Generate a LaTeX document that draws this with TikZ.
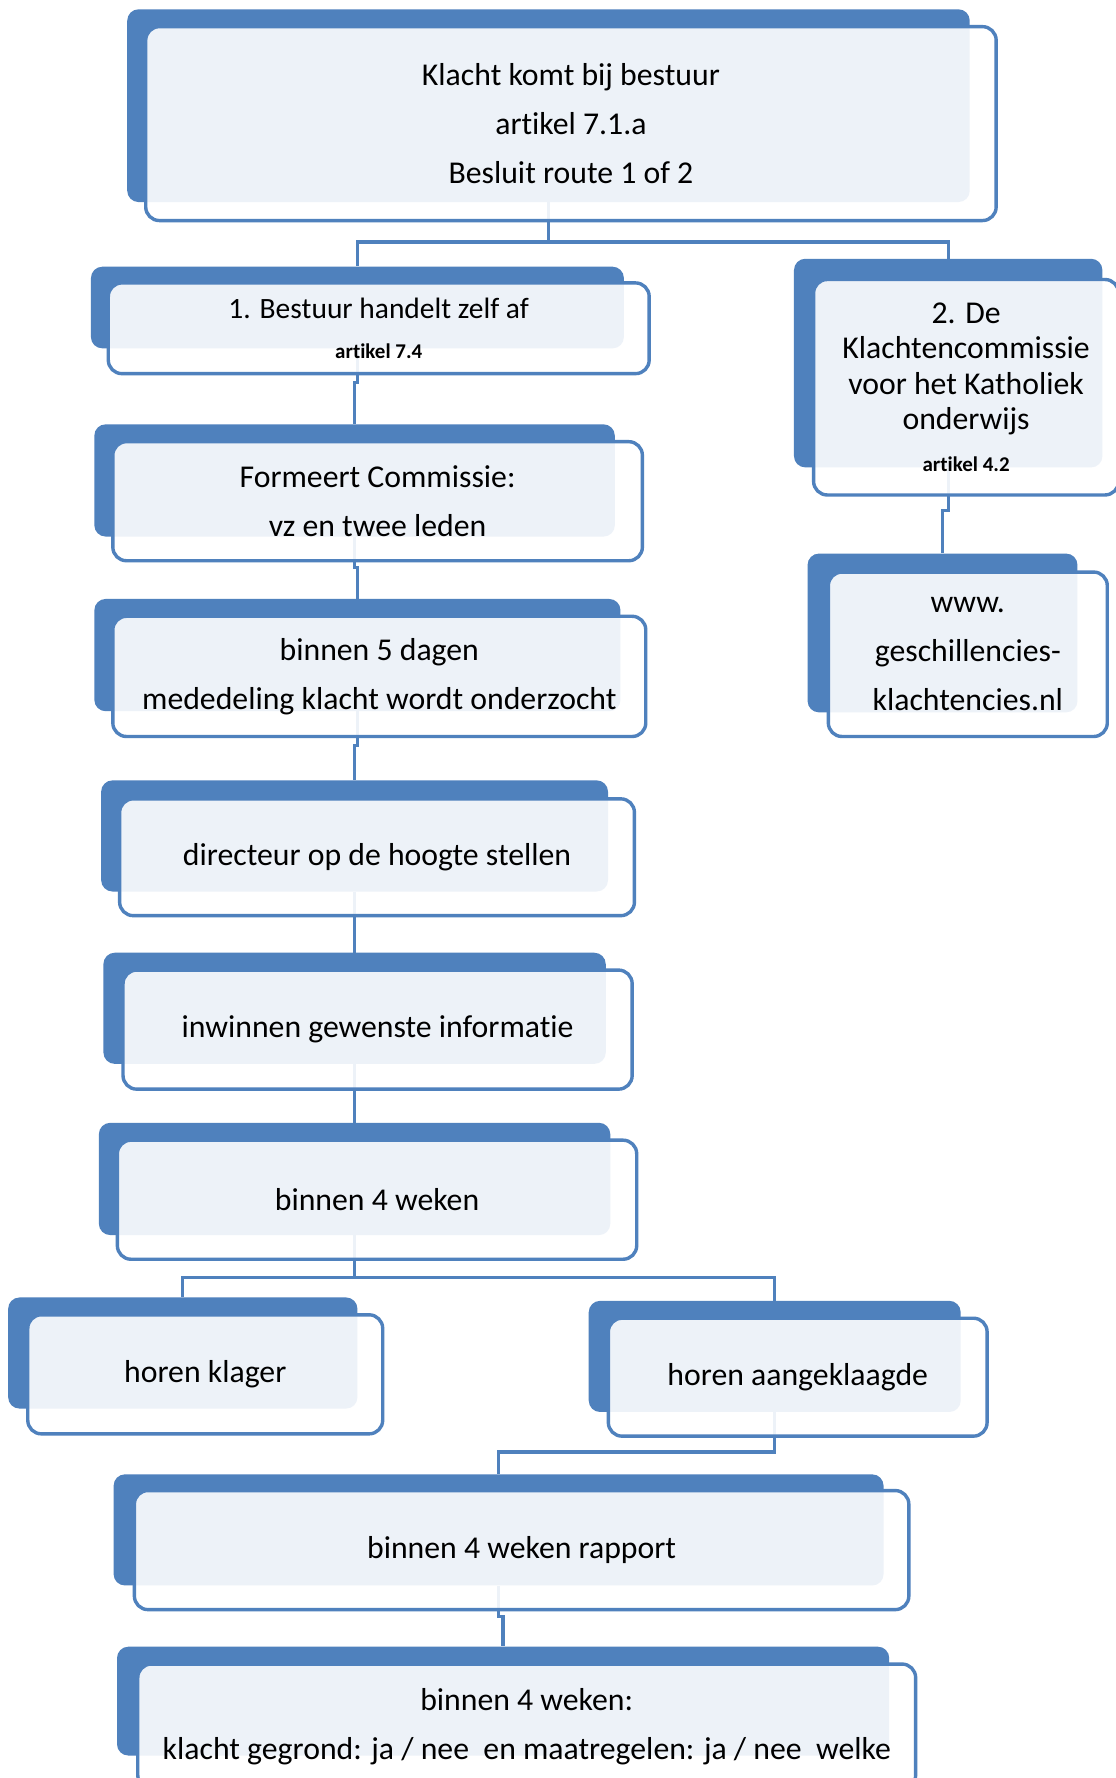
\documentclass[tikz,border=0pt]{standalone}
\usepackage{fontspec}
\setmainfont{Carlito}[Ligatures=NoCommon]
\definecolor{boxblue}{RGB}{79,129,189}
\tikzset{
	back/.style={fill=boxblue,rounded corners=10pt,anchor=north west,inner sep=0pt},
	front/.style={draw=boxblue,line width=3pt,fill=white,fill opacity=0.9,text opacity=1,rounded corners=12pt,anchor=north west,align=center,inner sep=0pt,font=\fontsize{28}{43}\selectfont},
	conn/.style={draw=boxblue,line width=3pt},
}
\begin{document}
\begin{tikzpicture}[x=1pt,y=-1pt]
		\useasboundingbox (0,0) rectangle (984,1568);
		\clip (0,0) rectangle (984,1568);
		\fill[color=white] (0,0) rectangle (984,1568);
		\node[back,minimum width=743pt,minimum height=170pt] (klachtB) at (112,8) {};
		\node[back,minimum width=470pt,minimum height=72pt] (zelfB) at (80,235) {};
		\node[back,minimum width=272pt,minimum height=184pt] (commissieB) at (700,228) {};
		\node[back,minimum width=238pt,minimum height=140pt] (wwwB) at (712,488) {};
		\node[back,minimum width=459pt,minimum height=99pt] (formeertB) at (83,374) {};
		\node[back,minimum width=464pt,minimum height=99pt] (dagenB) at (83,528) {};
		\node[back,minimum width=447pt,minimum height=98pt] (directeurB) at (89,688) {};
		\node[back,minimum width=443pt,minimum height=98pt] (infoB) at (91,840) {};
		\node[back,minimum width=451pt,minimum height=99pt] (wekenB) at (87,990) {};
		\node[back,minimum width=308pt,minimum height=98pt] (klagerB) at (7,1144) {};
		\node[back,minimum width=328pt,minimum height=98pt] (aangeklaagdeB) at (519,1147) {};
		\node[back,minimum width=679pt,minimum height=98pt] (rapportB) at (100,1300) {};
		\node[back,minimum width=681pt,minimum height=96pt] (besluitB) at (103,1452) {};
		\draw[conn] (klachtB.south) -- ++(0,35) -| (zelfB.north);
		\draw[conn] (klachtB.south) -- ++(0,35) -| (commissieB.north);
		\draw[conn] (commissieB.south) -- ++(0,38) -| (wwwB.north);
		\draw[conn] (zelfB.south) -- ++(0,30) -| (formeertB.north);
		\draw[conn] (formeertB.south) -- ++(0,27) -| (dagenB.north);
		\draw[conn] (dagenB.south) -- ++(0,30) -| (directeurB.north);
		\draw[conn] (directeurB.south) -- ++(0,27) -| (infoB.north);
		\draw[conn] (infoB.south) -- ++(0,26) -| (wekenB.north);
		\draw[conn] (wekenB.south) -- ++(0,37) -| (klagerB.north);
		\draw[conn] (wekenB.south) -- ++(0,37) -| (aangeklaagdeB.north);
		\draw[conn] (aangeklaagdeB.south) -- ++(0,35) -| (rapportB.north);
		\draw[conn] (rapportB.south) -- ++(0,27) -| (besluitB.north);
		\node[front,minimum width=750pt,minimum height=171pt] (klacht) at (127,22) {Klacht komt bij bestuur\\artikel 7.1.a\\Besluit route 1 of 2};
		\node[front,minimum width=477pt,minimum height=80pt,font=\fontsize{26}{43}\selectfont] (zelf) at (94,248) {1. Bestuur handelt zelf af\\[-7pt]{\bfseries\fontsize{18.5}{22}\selectfont artikel 7.4}};
		\node[front,minimum width=269pt,minimum height=190pt,font=\fontsize{28}{31}\selectfont] (commissie) at (716,245) {2. De\\Klachtencommissie\\voor het Katholiek\\onderwijs\\[6pt]{\bfseries\fontsize{18.5}{22}\selectfont artikel 4.2}};
		\node[front,minimum width=246pt,minimum height=145pt] (www) at (729,503) {www.\\geschillencies-\\klachtencies.nl};
		\node[front,minimum width=467pt,minimum height=105pt] (formeert) at (98,388) {Formeert Commissie:\\vz en twee leden};
		\node[front,minimum width=470pt,minimum height=106pt] (dagen) at (98,542) {binnen 5 dagen\\mededeling klacht wordt onderzocht};
		\node[front,minimum width=454pt,minimum height=103pt] (directeur) at (104,703) {directeur op de hoogte stellen};
		\node[front,minimum width=449pt,minimum height=105pt] (info) at (107,854) {inwinnen gewenste informatie};
		\node[front,minimum width=458pt,minimum height=105pt] (weken) at (102,1004) {binnen 4 weken};
		\node[front,minimum width=313pt,minimum height=105pt] (klager) at (23,1158) {horen klager};
		\node[front,minimum width=334pt,minimum height=104pt] (aangeklaagde) at (535,1161) {horen aangeklaagde};
		\node[front,minimum width=683pt,minimum height=105pt] (rapport) at (117,1313) {binnen 4 weken rapport};
		\node[front,minimum width=686pt,minimum height=110pt] (besluit) at (120,1466) {binnen 4 weken:\\klacht gegrond: ja / nee\ \ en maatregelen: ja / nee\ \ welke};
	\end{tikzpicture}
\end{document}
